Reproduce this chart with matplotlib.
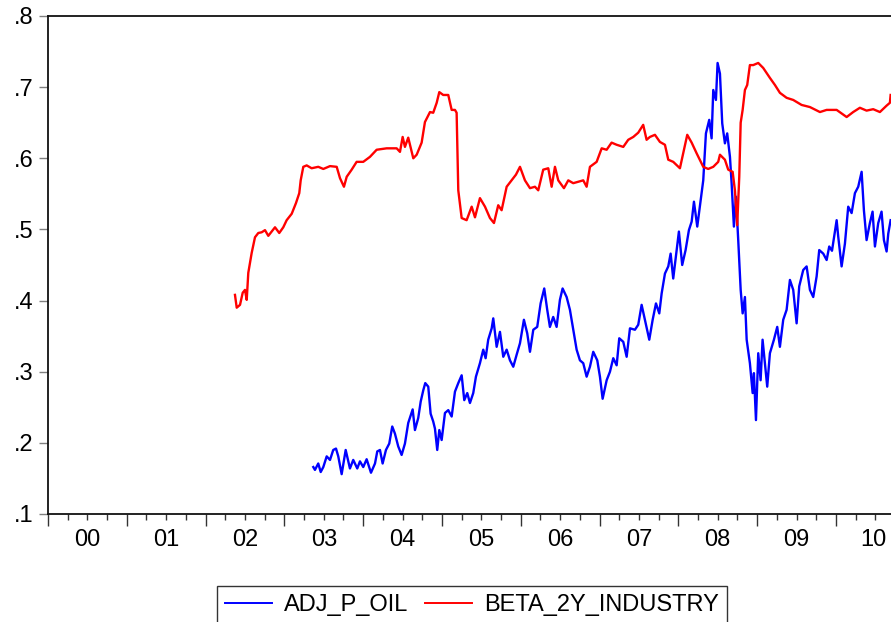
import matplotlib
matplotlib.use("Agg")
import matplotlib.pyplot as plt
import matplotlib.transforms as mtransforms
from matplotlib.ticker import FuncFormatter, MultipleLocator

# ADJ_P_OIL (decimal year, value)
oil_t = [2003.367, 2003.388, 2003.430, 2003.461, 2003.494, 2003.537, 2003.579, 2003.620,
         2003.655, 2003.684, 2003.727, 2003.778, 2003.832, 2003.874, 2003.925, 2003.959,
         2004.001, 2004.044, 2004.099, 2004.150, 2004.179, 2004.213, 2004.247, 2004.289,
         2004.331, 2004.369, 2004.403, 2004.445, 2004.488, 2004.530, 2004.572, 2004.628,
         2004.657, 2004.699, 2004.730, 2004.763, 2004.788, 2004.826, 2004.856, 2004.889,
         2004.911, 2004.940, 2004.966, 2004.996, 2005.038, 2005.080, 2005.123, 2005.165,
         2005.207, 2005.250, 2005.283, 2005.321, 2005.355, 2005.397, 2005.431, 2005.482,
         2005.524, 2005.554, 2005.587, 2005.631, 2005.651, 2005.694, 2005.736, 2005.778,
         2005.821, 2005.863, 2005.905, 2005.948, 2005.990, 2006.040, 2006.082, 2006.117,
         2006.159, 2006.209, 2006.252, 2006.298, 2006.336, 2006.370, 2006.412, 2006.455,
         2006.497, 2006.531, 2006.582, 2006.624, 2006.666, 2006.709, 2006.751, 2006.793,
         2006.836, 2006.878, 2006.920, 2006.971, 2007.005, 2007.039, 2007.090, 2007.132,
         2007.174, 2007.217, 2007.250, 2007.301, 2007.344, 2007.386, 2007.449, 2007.491,
         2007.534, 2007.576, 2007.631, 2007.674, 2007.716, 2007.758, 2007.788, 2007.830,
         2007.872, 2007.902, 2007.935, 2007.978, 2008.007, 2008.049, 2008.092, 2008.134,
         2008.169, 2008.198, 2008.240, 2008.283, 2008.316, 2008.350, 2008.392, 2008.422,
         2008.443, 2008.477, 2008.498, 2008.528, 2008.557, 2008.591, 2008.620, 2008.655,
         2008.676, 2008.705, 2008.731, 2008.760, 2008.791, 2008.816, 2008.845, 2008.867,
         2008.908, 2008.943, 2008.959, 2008.985, 2009.014, 2009.044, 2009.069, 2009.099,
         2009.128, 2009.162, 2009.213, 2009.255, 2009.289, 2009.331, 2009.374, 2009.416,
         2009.458, 2009.501, 2009.534, 2009.585, 2009.628, 2009.670, 2009.712, 2009.755,
         2009.788, 2009.839, 2009.882, 2009.915, 2009.950, 2010.009, 2010.029, 2010.072,
         2010.114, 2010.156, 2010.199, 2010.241, 2010.283, 2010.326, 2010.355, 2010.389,
         2010.431, 2010.465, 2010.495, 2010.537, 2010.579, 2010.609, 2010.643, 2010.664,
         2010.694]
oil_v = [0.166, 0.162, 0.171, 0.159, 0.166, 0.181, 0.176, 0.190,
         0.192, 0.181, 0.156, 0.190, 0.164, 0.176, 0.164, 0.174,
         0.166, 0.177, 0.158, 0.171, 0.188, 0.190, 0.171, 0.190,
         0.199, 0.223, 0.213, 0.195, 0.183, 0.199, 0.228, 0.247,
         0.218, 0.235, 0.258, 0.274, 0.284, 0.279, 0.241, 0.230,
         0.220, 0.190, 0.218, 0.204, 0.242, 0.246, 0.237, 0.272,
         0.284, 0.295, 0.260, 0.270, 0.256, 0.270, 0.293, 0.312,
         0.331, 0.319, 0.345, 0.361, 0.375, 0.335, 0.356, 0.321,
         0.331, 0.316, 0.307, 0.324, 0.340, 0.373, 0.354, 0.328,
         0.359, 0.363, 0.396, 0.417, 0.387, 0.363, 0.377, 0.363,
         0.401, 0.417, 0.405, 0.387, 0.359, 0.331, 0.316, 0.312,
         0.293, 0.307, 0.328, 0.316, 0.293, 0.262, 0.288, 0.300,
         0.319, 0.309, 0.347, 0.342, 0.321, 0.361, 0.359, 0.366,
         0.394, 0.373, 0.345, 0.373, 0.396, 0.382, 0.410, 0.438,
         0.448, 0.466, 0.431, 0.471, 0.497, 0.450, 0.471, 0.499,
         0.511, 0.539, 0.504, 0.541, 0.569, 0.635, 0.654, 0.628,
         0.696, 0.682, 0.734, 0.719, 0.649, 0.621, 0.635, 0.602,
         0.565, 0.504, 0.546, 0.485, 0.415, 0.382, 0.405, 0.345,
         0.312, 0.270, 0.298, 0.232, 0.326, 0.288, 0.345, 0.312,
         0.279, 0.326, 0.345, 0.363, 0.335, 0.373, 0.387, 0.429,
         0.415, 0.368, 0.420, 0.443, 0.448, 0.415, 0.405, 0.434,
         0.471, 0.466, 0.457, 0.476, 0.470, 0.513, 0.490, 0.448,
         0.480, 0.532, 0.523, 0.551, 0.560, 0.581, 0.527, 0.485,
         0.509, 0.525, 0.476, 0.509, 0.525, 0.485, 0.469, 0.494,
         0.513]

# BETA_2Y_INDUSTRY (decimal year, value)
beta_t = [2002.373, 2002.395, 2002.437, 2002.471, 2002.500, 2002.522, 2002.542, 2002.585,
          2002.627, 2002.669, 2002.712, 2002.754, 2002.796, 2002.881, 2002.935, 2002.986,
          2003.029, 2003.093, 2003.147, 2003.189, 2003.207, 2003.240, 2003.283, 2003.346,
          2003.430, 2003.494, 2003.579, 2003.664, 2003.706, 2003.756, 2003.791, 2003.854,
          2003.917, 2004.001, 2004.086, 2004.171, 2004.298, 2004.425, 2004.467, 2004.501,
          2004.530, 2004.572, 2004.636, 2004.679, 2004.742, 2004.784, 2004.848, 2004.889,
          2004.933, 2004.966, 2005.016, 2005.080, 2005.123, 2005.165, 2005.186, 2005.207,
          2005.250, 2005.313, 2005.377, 2005.419, 2005.482, 2005.546, 2005.609, 2005.660,
          2005.714, 2005.757, 2005.821, 2005.884, 2005.939, 2005.990, 2006.053, 2006.117,
          2006.180, 2006.222, 2006.285, 2006.349, 2006.392, 2006.434, 2006.476, 2006.548,
          2006.603, 2006.666, 2006.730, 2006.793, 2006.836, 2006.878, 2006.963, 2007.027,
          2007.090, 2007.153, 2007.217, 2007.301, 2007.364, 2007.428, 2007.491, 2007.554,
          2007.597, 2007.639, 2007.703, 2007.766, 2007.830, 2007.872, 2007.935, 2008.020,
          2008.062, 2008.113, 2008.169, 2008.232, 2008.316, 2008.379, 2008.443, 2008.506,
          2008.528, 2008.591, 2008.633, 2008.689, 2008.718, 2008.747, 2008.773, 2008.791,
          2008.816, 2008.845, 2008.874, 2008.908, 2008.950, 2009.014, 2009.077, 2009.162,
          2009.226, 2009.289, 2009.374, 2009.458, 2009.564, 2009.670, 2009.797, 2009.882,
          2010.009, 2010.136, 2010.219, 2010.304, 2010.389, 2010.473, 2010.558, 2010.643,
          2010.685, 2010.694]
beta_v = [0.408, 0.390, 0.394, 0.411, 0.415, 0.401, 0.439, 0.467,
          0.489, 0.495, 0.496, 0.499, 0.491, 0.503, 0.495, 0.503,
          0.513, 0.522, 0.537, 0.551, 0.569, 0.588, 0.590, 0.586,
          0.588, 0.585, 0.589, 0.588, 0.572, 0.560, 0.574, 0.584,
          0.595, 0.595, 0.602, 0.612, 0.614, 0.614, 0.609, 0.630,
          0.616, 0.629, 0.600, 0.605, 0.622, 0.651, 0.665, 0.664,
          0.678, 0.693, 0.689, 0.689, 0.668, 0.668, 0.664, 0.555,
          0.516, 0.513, 0.532, 0.517, 0.544, 0.532, 0.516, 0.509,
          0.534, 0.527, 0.560, 0.569, 0.577, 0.588, 0.569, 0.558,
          0.560, 0.555, 0.584, 0.586, 0.560, 0.588, 0.569, 0.558,
          0.569, 0.565, 0.567, 0.569, 0.560, 0.588, 0.595, 0.614,
          0.612, 0.622, 0.619, 0.616, 0.626, 0.630, 0.636, 0.647,
          0.626, 0.630, 0.633, 0.623, 0.619, 0.598, 0.595, 0.586,
          0.607, 0.633, 0.622, 0.607, 0.588, 0.585, 0.588, 0.595,
          0.605, 0.598, 0.584, 0.581, 0.555, 0.506, 0.574, 0.650,
          0.668, 0.696, 0.703, 0.731, 0.731, 0.734, 0.727, 0.713,
          0.703, 0.692, 0.685, 0.682, 0.675, 0.672, 0.665, 0.668,
          0.668, 0.658, 0.665, 0.671, 0.667, 0.669, 0.665, 0.674,
          0.678, 0.689]

year_labels = ["00", "01", "02", "03", "04", "05", "06", "07", "08", "09", "10"]
first_year = 2000
x_end = 2010.94

plt.rcParams["font.family"] = ["Liberation Sans", "DejaVu Sans"]

fig = plt.figure(figsize=(8.91, 6.22), dpi=100)
ax = fig.add_axes([48 / 891, 108 / 622, 862 / 891, 498 / 622])

ax.plot(oil_t, oil_v, color="#0000ff", lw=1.7, label="ADJ_P_OIL")
ax.plot(beta_t, beta_v, color="#ff0000", lw=1.7, label="BETA_2Y_INDUSTRY")

ax.set_xlim(first_year, x_end)
ax.set_ylim(0.1, 0.8)

# y axis: .1 ... .8
ax.yaxis.set_major_locator(MultipleLocator(0.1))
ax.yaxis.set_major_formatter(FuncFormatter(lambda v, _: ("%.1f" % v).lstrip("0")))
ax.tick_params(axis="y", direction="out", length=6.5, width=1, color="#808080",
               labelsize=17, pad=4)

# x axis: year ticks + quarter ticks, labels centred in each year
ax.xaxis.set_major_locator(MultipleLocator(1))
ax.xaxis.set_minor_locator(MultipleLocator(0.25))
ax.tick_params(axis="x", which="major", direction="out", length=8.5, width=1,
               color="#333333", labelbottom=False)
ax.tick_params(axis="x", which="minor", direction="out", length=4.3, width=1,
               color="#333333")

trans = mtransforms.blended_transform_factory(ax.transData, ax.transAxes)
for i, lab in enumerate(year_labels):
    start = first_year + i
    mid = (start + min(start + 1, x_end)) / 2
    ax.text(mid, -0.052, lab, transform=trans, ha="center", va="center", fontsize=17)

for side in ["left", "top", "bottom", "right"]:
    ax.spines[side].set_linewidth(1.3)
    ax.spines[side].set_color("#111111")

leg = fig.legend(loc="upper center", bbox_to_anchor=(472 / 891, 1 - 586 / 622),
                 ncol=2, fontsize=17, frameon=True, fancybox=False, edgecolor="black",
                 handlelength=2.0, handletextpad=0.5, columnspacing=0.7,
                 borderpad=0.35, borderaxespad=0)
leg.get_frame().set_linewidth(1.0)
for line in leg.get_lines():
    line.set_linewidth(1.4)

fig.savefig("out.png", dpi=100)
